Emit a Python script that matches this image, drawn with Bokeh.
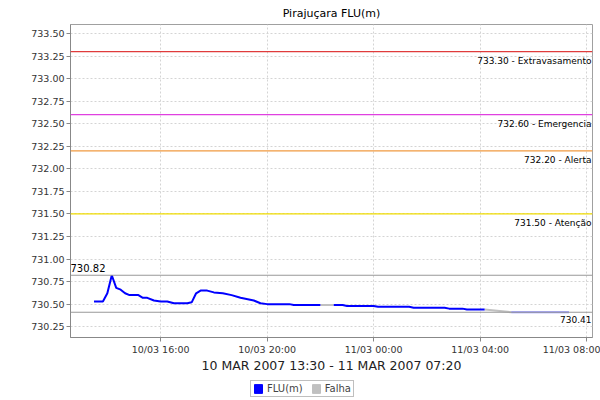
import numpy as np
import pandas as pd
from bokeh.plotting import figure
from bokeh.layouts import column
from bokeh.models import (Range1d, FixedTicker, DatetimeTickFormatter, NumeralTickFormatter,
                          Span, Legend, LegendItem, ColumnDataSource)
from bokeh.embed import file_html
from bokeh.resources import INLINE
from bokeh.core.properties import value

# ---------------- data ----------------
chart_title = "Pirajuçara FLU(m)"
x_label = "10 MAR 2007 13:30 - 11 MAR 2007 07:20"

flu_times = [
    "2007-03-10 13:30", "2007-03-10 13:50", "2007-03-10 14:00", "2007-03-10 14:10",
    "2007-03-10 14:20", "2007-03-10 14:30", "2007-03-10 14:40", "2007-03-10 14:50",
    "2007-03-10 15:10", "2007-03-10 15:20", "2007-03-10 15:30", "2007-03-10 15:45",
    "2007-03-10 16:00", "2007-03-10 16:15", "2007-03-10 16:30", "2007-03-10 17:00",
    "2007-03-10 17:10", "2007-03-10 17:20", "2007-03-10 17:30", "2007-03-10 17:45",
    "2007-03-10 18:00", "2007-03-10 18:20", "2007-03-10 18:40", "2007-03-10 19:00",
    "2007-03-10 19:30", "2007-03-10 19:45", "2007-03-10 20:00", "2007-03-10 20:50",
    "2007-03-10 21:00", "2007-03-10 22:00",
    None,
    "2007-03-10 22:30", "2007-03-10 22:50", "2007-03-10 23:00", "2007-03-11 00:00",
    "2007-03-11 00:10", "2007-03-11 01:20", "2007-03-11 01:30", "2007-03-11 02:40",
    "2007-03-11 02:50", "2007-03-11 03:20", "2007-03-11 03:30", "2007-03-11 04:10",
]
flu_values = [
    730.53, 730.53, 730.62, 730.82,
    730.68, 730.66, 730.62, 730.60,
    730.60, 730.57, 730.57, 730.54,
    730.53, 730.53, 730.51, 730.51,
    730.52, 730.62, 730.65, 730.65,
    730.63, 730.62, 730.60, 730.57,
    730.54, 730.51, 730.50, 730.50,
    730.49, 730.49,
    None,
    730.49, 730.49, 730.48, 730.48,
    730.47, 730.47, 730.46, 730.46,
    730.45, 730.45, 730.44, 730.44,
]
flu_late_times = ["2007-03-11 05:10", "2007-03-11 07:20"]
flu_late_values = [730.41, 730.41]

falha_times = ["2007-03-10 22:00", "2007-03-10 22:30", None, "2007-03-11 04:10", "2007-03-11 05:10"]
falha_values = [730.49, 730.49, None, 730.44, 730.41]

threshold_values = [733.30, 732.60, 732.20, 731.50]
threshold_names = ["Extravasamento", "Emergencia", "Alerta", "Atenção"]
threshold_colors = ["#e03c3c", "#e040e0", "#f09a40", "#f0dc00"]

max_value = 730.82
min_value = 730.41

legend_labels = ["FLU(m)", "Falha"]
legend_colors = ["#0000ff", "#c0c0c0"]

x_ticks = ["2007-03-10 16:00", "2007-03-10 20:00", "2007-03-11 00:00",
           "2007-03-11 04:00", "2007-03-11 08:00"]
y_ticks = [730.25, 730.50, 730.75, 731.00, 731.25, 731.50, 731.75, 732.00,
           732.25, 732.50, 732.75, 733.00, 733.25, 733.50]
x_start, x_end = "2007-03-10 12:37", "2007-03-11 08:13"
y_start, y_end = 730.13, 733.60


def to_ms(seq):
    out = []
    for s in seq:
        out.append(np.nan if s is None else pd.Timestamp(s).value / 1e6)
    return np.array(out, dtype=float)


def to_f(seq):
    return np.array([np.nan if v is None else v for v in seq], dtype=float)


FONT = "DejaVu Sans"

p = figure(width=600, height=375, x_axis_type="datetime", output_backend="svg",
           toolbar_location=None, title=chart_title,
           x_range=Range1d(pd.Timestamp(x_start).value / 1e6, pd.Timestamp(x_end).value / 1e6),
           y_range=Range1d(y_start, y_end),
           min_border_left=70, min_border_right=8, min_border_top=23, min_border_bottom=38)

p.title.align = "center"
p.title.text_font = FONT
p.title.text_font_size = "11px"
p.title.text_font_style = "normal"
p.title.text_color = "#000000"
p.title.standoff = 9
p.title.offset = 0

p.background_fill_color = "white"
p.border_fill_color = "white"
p.outline_line_color = "#a0a0a0"

# axes
p.xaxis.ticker = FixedTicker(ticks=list(to_ms(x_ticks)))
p.xaxis.formatter = DatetimeTickFormatter(hours="%d/%m %H:%M", days="%d/%m %H:%M",
                                          minutes="%d/%m %H:%M")
p.yaxis.ticker = FixedTicker(ticks=y_ticks)
p.yaxis.formatter = NumeralTickFormatter(format="0.00")
for ax in (p.xaxis[0], p.yaxis[0]):
    ax.axis_line_color = "#888888"
    ax.major_tick_line_color = "#888888"
    ax.major_tick_out = 4
    ax.major_tick_in = 0
    ax.minor_tick_line_color = None
    ax.major_label_text_font = FONT
    ax.major_label_text_font_size = "9.5px"
    ax.major_label_text_color = "#333333"
    ax.major_label_standoff = 2
p.xaxis.axis_label = x_label
p.xaxis.axis_label_text_font = FONT
p.xaxis.axis_label_text_font_size = "12.5px"
p.xaxis.axis_label_text_font_style = "normal"
p.xaxis.axis_label_text_color = "#222222"
p.xaxis.axis_label_standoff = 0

for g in (p.xgrid[0], p.ygrid[0]):
    g.grid_line_color = "#d4d4d4"
    g.grid_line_dash = "2 2"
p.xgrid.ticker = p.xaxis.ticker
p.ygrid.ticker = p.yaxis.ticker

# threshold lines
for v, c in zip(threshold_values, threshold_colors):
    p.add_layout(Span(location=v, dimension="width", line_color=c, line_width=1.3))
for v in (max_value, min_value):
    p.add_layout(Span(location=v, dimension="width", line_color="#999999", line_width=1.2))

# threshold labels (right aligned, below line)
xe = pd.Timestamp(x_end).value / 1e6
thr_src = ColumnDataSource(dict(
    x=[xe] * (len(threshold_values) + 1),
    y=threshold_values + [min_value],
    t=["%.2f - %s" % (v, n) for v, n in zip(threshold_values, threshold_names)] + ["%.2f" % min_value],
))
p.text(x="x", y="y", text="t", source=thr_src, text_align="right", text_baseline="top",
       x_offset=-1, y_offset=4, text_font=value(FONT), text_font_size="9px",
       text_color="#000000")
xs = pd.Timestamp(x_start).value / 1e6
p.text(x=[xs], y=[max_value], text=["%.2f" % max_value], text_align="left",
       text_baseline="bottom", x_offset=0, y_offset=-3, text_font=value(FONT),
       text_font_size="10px", text_color="#000000")

# series
p.line(to_ms(falha_times), to_f(falha_values), line_color=legend_colors[1], line_width=2)
p.line(to_ms(flu_times), to_f(flu_values), line_color=legend_colors[0], line_width=2)
p.line(to_ms(flu_late_times), to_f(flu_late_values), line_color=legend_colors[0],
       line_alpha=0.45, line_width=2)

# legend strip (separate figure underneath; frame is aligned with the main plot)
lf = figure(width=600, height=25, output_backend="svg", toolbar_location=None,
            x_axis_location=None, y_axis_location=None, min_border=0,
            x_range=Range1d(0, 1), y_range=Range1d(0, 1))
lf.outline_line_color = None
lf.xgrid.visible = False
lf.ygrid.visible = False
items = []
for lab, col in zip(legend_labels, legend_colors):
    r = lf.quad(left=[np.nan], right=[np.nan], top=[np.nan], bottom=[np.nan],
                fill_color=col, line_color=col)
    items.append(LegendItem(label=lab, renderers=[r]))
legend = Legend(items=items, orientation="horizontal", location=(180, 3))
legend.label_text_font = FONT
legend.label_text_font_size = "10px"
legend.glyph_width = 10
legend.glyph_height = 11
legend.label_standoff = 4
legend.spacing = 8
legend.padding = 2
legend.margin = 0
legend.border_line_color = "#808080"
legend.background_fill_color = "white"
legend.label_height = 11
lf.add_layout(legend, "center")

layout = column(p, lf, spacing=0)
open("out.html", "w").write(file_html(layout, INLINE))
